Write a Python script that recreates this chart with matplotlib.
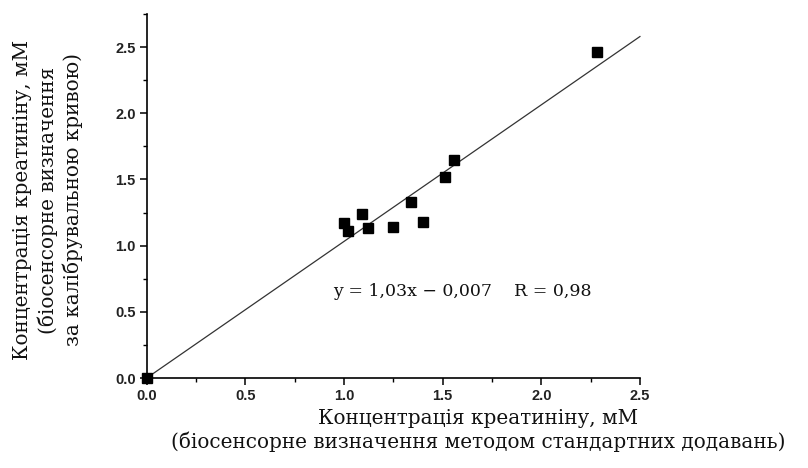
import matplotlib
matplotlib.use('Agg')
import matplotlib.pyplot as plt
from matplotlib.ticker import MultipleLocator

# точки: стандартні додавання (x) vs калібрувальна крива (y), мМ
x_dod = [0.0, 1.00, 1.02, 1.09, 1.12, 1.25, 1.34, 1.40, 1.51, 1.56, 2.28]
y_kal = [0.0, 1.17, 1.11, 1.24, 1.13, 1.14, 1.33, 1.18, 1.52, 1.65, 2.46]

# лінія регресії (кінці, як на рисунку)
fit_x = [0.0, 2.5]
fit_y = [0.0, 2.58]

eq_text = 'y = 1,03x \u2212 0,007    R = 0,98'
xlabel_1 = 'Концентрація креатиніну, мМ'
xlabel_2 = '(біосенсорне визначення методом стандартних додавань)'
ylabel_lines = ['Концентрація креатиніну, мМ',
                '(біосенсорне визначення',
                'за калібрувальною кривою)']

fig = plt.figure(figsize=(8.08, 4.68), dpi=100)
ax = fig.add_axes([0.1816, 0.1923, 0.6104, 0.7777])

ax.plot(fit_x, fit_y, color='#333333', lw=0.9, clip_on=False)
ax.plot(x_dod, y_kal, 's', color='black', markersize=6.5, clip_on=False, zorder=3)

ax.set_xlim(0, 2.5)
ax.set_ylim(0, 2.75)
ax.xaxis.set_major_locator(MultipleLocator(0.5))
ax.xaxis.set_minor_locator(MultipleLocator(0.25))
ax.yaxis.set_minor_locator(MultipleLocator(0.25))
ax.set_yticks([0, 0.5, 1.0, 1.5, 2.0, 2.5])

for s in ['top', 'right']:
    ax.spines[s].set_visible(False)
for s in ['left', 'bottom']:
    ax.spines[s].set_linewidth(1.2)

ax.tick_params(which='major', length=5, width=1.1, direction='out', pad=3)
ax.tick_params(which='minor', length=3, width=1.0, direction='out')
for lab in ax.get_xticklabels() + ax.get_yticklabels():
    lab.set_fontfamily('Liberation Sans')
    lab.set_fontsize(10.5)
    lab.set_fontweight('bold')
    lab.set_color('#222222')

ax.text(0.945, 0.65, eq_text, fontfamily='DejaVu Serif', fontsize=12.5,
        va='center', ha='left', color='#111111')

fig.text(0.592, 1 - 418 / 468, xlabel_1, fontfamily='DejaVu Serif', fontsize=14.4,
         ha='center', va='center', color='#111111')
fig.text(0.592, 1 - 442 / 468, xlabel_2, fontfamily='DejaVu Serif', fontsize=14.4,
         ha='center', va='center', color='#111111')

for i, line in enumerate(ylabel_lines):
    fig.text((23 + 25 * i) / 808, 1 - 200 / 468, line, fontfamily='DejaVu Serif',
             fontsize=14.4, rotation=90, ha='center', va='center', color='#111111')

fig.savefig('out.png', dpi=100)
